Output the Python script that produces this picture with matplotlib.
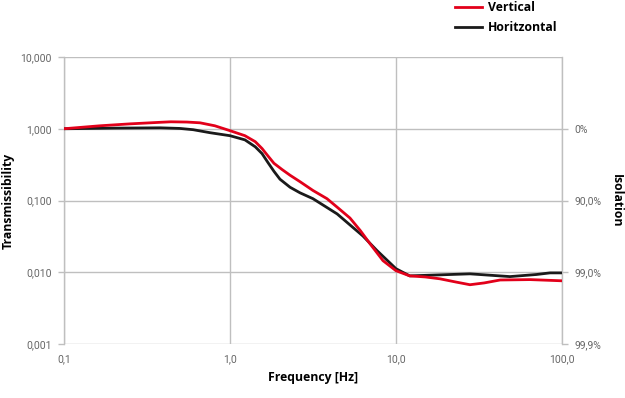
import matplotlib
matplotlib.use("Agg")
import matplotlib.pyplot as plt
from matplotlib.ticker import FixedLocator, NullLocator

# Values
vert_freq = [0.1, 0.165, 0.25, 0.38, 0.44, 0.55, 0.66, 0.81, 1.0, 1.23, 1.42,
             1.56, 1.69, 1.84, 2.06, 2.3, 2.64, 3.16, 3.84, 4.5, 5.28, 6.1,
             6.97, 8.35, 10.0, 12.1, 15.0, 18.4, 23.0, 27.9, 34.0, 42.4, 64.1,
             100.0]
vert_trans = [1.0, 1.1, 1.17, 1.23, 1.25, 1.24, 1.21, 1.1, 0.94, 0.8, 0.66,
              0.53, 0.42, 0.33, 0.27, 0.225, 0.183, 0.138, 0.106, 0.078,
              0.057, 0.038, 0.025, 0.0145, 0.0105, 0.0089, 0.0086, 0.0081,
              0.0073, 0.0067, 0.0071, 0.0078, 0.0079, 0.0076]

horiz_freq = [0.1, 0.2, 0.38, 0.5, 0.6, 0.76, 1.0, 1.23, 1.42, 1.56, 1.69,
              1.84, 2.0, 2.3, 2.64, 3.16, 4.42, 6.32, 7.69, 10.0, 12.1, 18.4,
              27.9, 48.6, 70.0, 84.7, 100.0]
horiz_trans = [1.0, 1.02, 1.03, 1.01, 0.97, 0.88, 0.8, 0.7, 0.56, 0.45,
               0.34, 0.255, 0.198, 0.153, 0.128, 0.106, 0.065, 0.032, 0.02,
               0.0112, 0.0089, 0.0092, 0.0095, 0.0087, 0.0093, 0.0098, 0.0098]

y_ticks = [0.001, 0.01, 0.1, 1.0, 10.0]
y_labels = ["0,001", "0,010", "0,100", "1,000", "10,000"]
iso_ticks = [0.001, 0.01, 0.1, 1.0]
iso_labels = ["99,9%", "99,0%", "90,0%", "0%"]
x_ticks = [0.1, 1.0, 10.0, 100.0]
x_labels = ["0,1", "1,0", "10,0", "100,0"]

grid_col = "#bfbfbf"
tick_col = "#666666"
lab_font = "Open Sans"
tick_font = "Roboto"
lab_size = 8.8
tick_size = 7.5

fig = plt.figure(figsize=(6.25, 3.98), dpi=100)
ax = fig.add_axes([64 / 625, 54 / 398, 498 / 625, 287 / 398])

ax.plot(horiz_freq, horiz_trans, color="#1a1a1a", lw=2.0, label="Horitzontal", zorder=3)
ax.plot(vert_freq, vert_trans, color="#e2001a", lw=2.0, label="Vertical", zorder=4)

ax.set_xscale("log")
ax.set_yscale("log")
ax.set_xlim(0.1, 100)
ax.set_ylim(0.001, 10)

ax.xaxis.set_major_locator(FixedLocator(x_ticks))
ax.xaxis.set_minor_locator(NullLocator())
ax.set_xticklabels(x_labels, family=tick_font)
ax.yaxis.set_major_locator(FixedLocator(y_ticks))
ax.yaxis.set_minor_locator(NullLocator())
ax.set_yticklabels(y_labels, family=tick_font)

ax.grid(True, color=grid_col, lw=1)
ax.set_axisbelow(True)
for s in ["top", "bottom"]:
    ax.spines[s].set_visible(False)
for s in ["left", "right"]:
    ax.spines[s].set_color(grid_col)
    ax.spines[s].set_linewidth(1)

ax.tick_params(axis="x", length=0, pad=7, labelsize=tick_size, labelcolor=tick_col)
ax.tick_params(axis="y", length=4, width=1, color=grid_col, pad=5,
               labelsize=tick_size, labelcolor=tick_col)

ax2 = ax.twinx()
ax2.set_yscale("log")
ax2.set_ylim(0.001, 10)
ax2.yaxis.set_major_locator(FixedLocator(iso_ticks))
ax2.yaxis.set_minor_locator(NullLocator())
ax2.set_yticklabels(iso_labels, family=tick_font)
ax2.tick_params(axis="y", length=4, width=1, color=grid_col, pad=5,
                labelsize=tick_size, labelcolor=tick_col)
for s in ax2.spines.values():
    s.set_visible(False)

ax.set_xlabel("Frequency [Hz]", fontsize=lab_size, fontweight="bold",
              family=lab_font)
ax.xaxis.set_label_coords(0.5, -27 / 287)
ax.set_ylabel("Transmissibility", fontsize=lab_size, fontweight="bold",
              family=lab_font, va="center")
ax.yaxis.set_label_coords(-56 / 498, 0.5)
ax2.set_ylabel("Isolation", fontsize=lab_size, fontweight="bold",
               family=lab_font, rotation=-90, va="center")
ax2.yaxis.set_label_coords(552 / 498, 0.5)

handles, labels = ax.get_legend_handles_labels()
fig.legend(handles[::-1], labels[::-1], loc="upper left",
           bbox_to_anchor=(449 / 625, 1.012), frameon=False, borderpad=0,
           prop={"family": lab_font, "weight": "bold", "size": lab_size},
           handlelength=2.2, labelspacing=0.55, handletextpad=0.45)

fig.savefig("out.png", dpi=100)
